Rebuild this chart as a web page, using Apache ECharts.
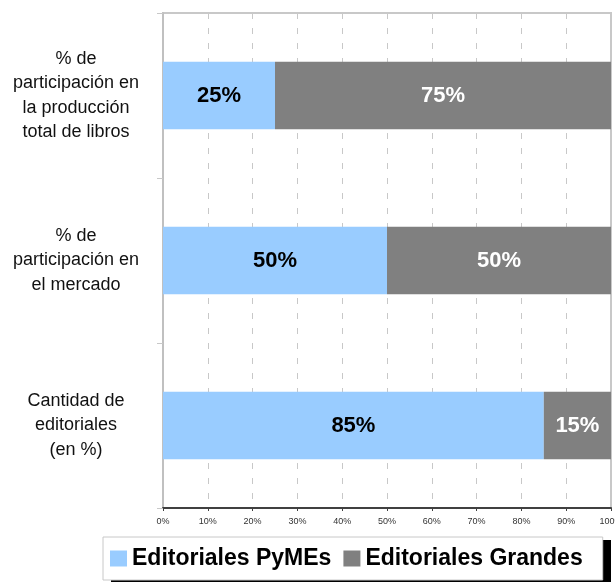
<!DOCTYPE html>
<html>
<head>
<meta charset="utf-8">
<script src="https://cdn.jsdelivr.net/npm/echarts@6/dist/echarts.min.js"></script>
<style>
html,body{margin:0;padding:0;background:#fff;}
#chart{width:615px;height:582px;}
</style>
</head>
<body>
<div id="chart"></div>
<script>
var categories = ['% de\nparticipación en\nla producción\ntotal de libros', '% de\nparticipación en\nel mercado', 'Cantidad de\neditoriales\n(en %)'];
var seriesNames = ['Editoriales PyMEs', 'Editoriales Grandes'];
var pymesValues = [25, 50, 85];
var grandesValues = [75, 50, 15];

var chart = echarts.init(document.getElementById('chart'), null, {renderer: 'canvas'});
chart.setOption({
  animation: false,
  backgroundColor: '#ffffff',
  textStyle: {fontFamily: 'Liberation Sans, Arial, sans-serif'},
  grid: {left: 163, right: 4, top: 13, bottom: 74, outerBoundsMode: 'none', containLabel: false, show: true, borderColor: '#c8c8c8', borderWidth: 2, backgroundColor: 'transparent'},
  graphic: [
    {type: 'rect', z: 1, left: 111, top: 540, shape: {width: 500, height: 45}, style: {fill: '#000'}}
  ],
  legend: {
    left: 103, top: 537, z: 5,
    padding: [10, 20, 10, 7],
    itemGap: 12,
    itemWidth: 17, itemHeight: 16,
    icon: 'rect',
    backgroundColor: '#ffffff',
    borderColor: '#c8c8c8', borderWidth: 1,
    textStyle: {fontSize: 23, fontWeight: 'bold', color: '#000', fontFamily: 'Liberation Sans, Arial, sans-serif'},
    data: seriesNames
  },
  xAxis: {
    type: 'value', min: 0, max: 100, interval: 10,
    axisLine: {show: true, lineStyle: {color: '#404040', width: 2}},
    axisTick: {show: true, length: 3, lineStyle: {color: '#404040'}},
    axisLabel: {formatter: '{value}%', fontSize: 9, color: '#333', margin: 9, fontFamily: 'Liberation Sans, Arial, sans-serif'},
    splitLine: {show: true, lineStyle: {color: '#c8c8c8', type: [6, 9], width: 1}}
  },
  yAxis: {
    type: 'category', inverse: true, data: categories,
    axisLine: {show: true, lineStyle: {color: '#c0c0c0', width: 2}},
    axisTick: {show: true, length: 6, lineStyle: {color: '#c8c8c8'}},
    axisLabel: {align: 'center', margin: 87, fontSize: 18, lineHeight: 24.5, color: '#111', fontFamily: 'Liberation Sans, Arial, sans-serif'},
    splitLine: {show: false}
  },
  series: [
    {
      name: seriesNames[0], type: 'bar', stack: 'total', data: pymesValues, barWidth: '41%',
      itemStyle: {color: '#99CCFF'},
      label: {show: true, position: 'inside', formatter: '{c}%', fontSize: 22, fontWeight: 'bold', color: '#000'}
    },
    {
      name: seriesNames[1], type: 'bar', stack: 'total', data: grandesValues, barWidth: '41%',
      itemStyle: {color: '#808080'},
      label: {show: true, position: 'inside', formatter: '{c}%', fontSize: 22, fontWeight: 'bold', color: '#fff'}
    }
  ]
});
</script>
</body>
</html>
